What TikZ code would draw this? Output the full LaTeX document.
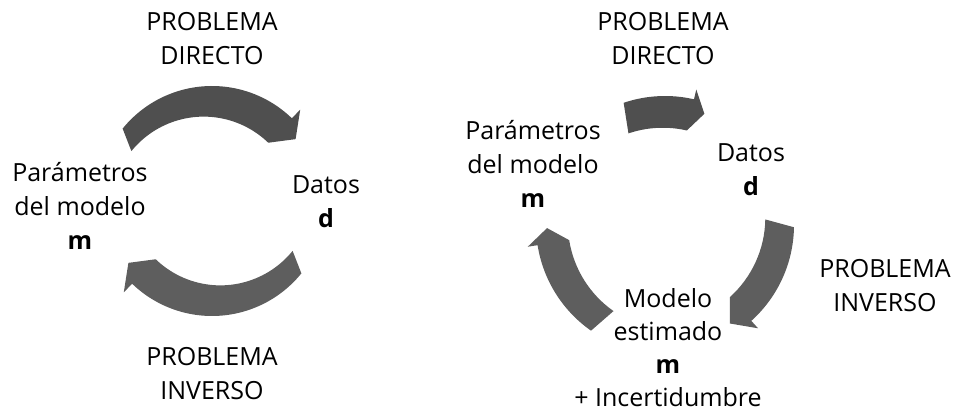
\documentclass[tikz,border=0pt]{standalone}
\usepackage{fontspec}
\setmainfont{Open Sans}
\begin{document}
\begin{tikzpicture}[x=1pt,y=1pt,
  lbl/.style={align=center,inner sep=0pt,font=\fontsize{25}{34}\selectfont},
  arrA/.style={fill=black!69},
  arrB/.style={fill=black!63}]
\useasboundingbox (0,0) rectangle (956,415);
% #1 style, #2 center, #3 mid radius, #4 half width, #5 start angle, #6 base angle, #7 tip angle, #8 head half width
\newcommand{\cyclearrow}[8]{%
  \fill[#1,shift={(#2)}] (#5:#3+#4) arc[start angle=#5,end angle=#6,radius=#3+#4]
    -- (#6:#3+#8) -- (#7:#3) -- (#6:#3-#8)
    arc[start angle=#6,end angle=#5,radius=#3-#4] -- cycle;}
% left cycle
\coordinate (c1) at (212,214);
\node[lbl] (pd1) at (212,376.5) {PROBLEMA\\DIRECTO};
\node[lbl] (pm1) at (80,209) {Parámetros\\del modelo\\\textbf{m}};
\node[lbl] (dd1) at (326,213) {Datos\\\textbf{d}};
\node[lbl] (pi1) at (212,41.5) {PROBLEMA\\INVERSO};
\cyclearrow{arrA}{c1}{104}{11}{141}{46}{36.5}{23}
\cyclearrow{arrB}{c1}{104}{11}{-39}{-134}{-143.5}{23}
% right cycle
\coordinate (c2) at (665,190);
\node[lbl] (pd2) at (663,376.5) {PROBLEMA\\DIRECTO};
\node[lbl] (pm2) at (533,251) {Parámetros\\del modelo\\\textbf{m}};
\node[lbl] (dd2) at (751,245.5) {Datos\\\textbf{d}};
\node[lbl] (pi2) at (885,129.5) {PROBLEMA\\INVERSO};
\node[lbl,font=\fontsize{25}{33}\selectfont] (me2) at (668,67) {Modelo\\estimado\\\textbf{m}\\+ Incertidumbre};
\cyclearrow{arrA}{c2}{118}{11}{108.7}{77}{70.5}{21}
\cyclearrow{arrB}{c2}{118}{11}{-1}{-48}{-56.6}{21}
\cyclearrow{arrB}{c2}{118}{11}{235}{189}{181.5}{21}
\end{tikzpicture}
\end{document}
